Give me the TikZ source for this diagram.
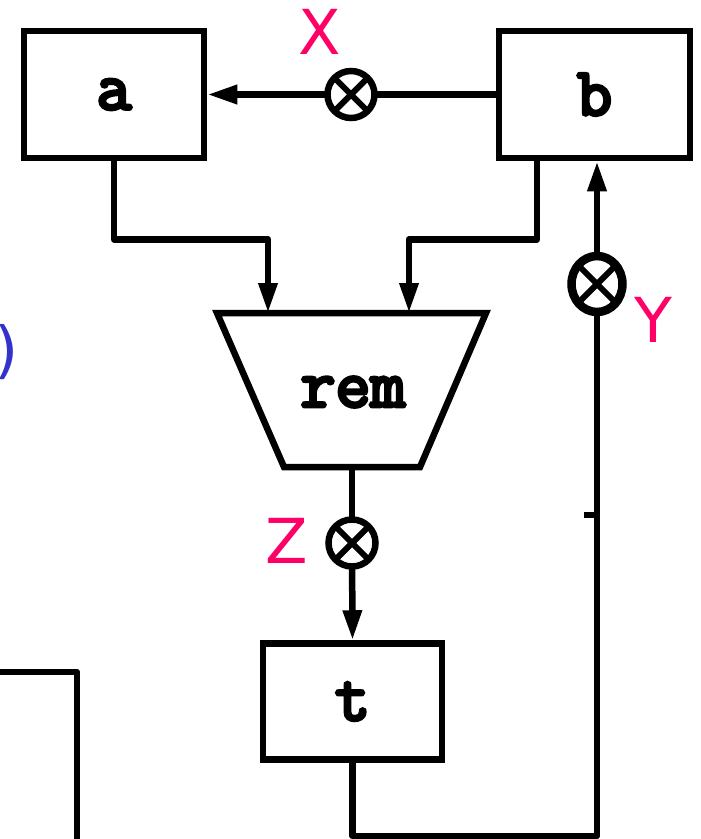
\documentclass[tikz,border=0pt]{standalone}
\usepackage{fontspec}
\newfontfamily\codefont{Latin Modern Mono}[FakeBold=5]
\newfontfamily\labelfont{DejaVu Sans}
\usetikzlibrary{arrows.meta,shapes.geometric}
\definecolor{sigpink}{RGB}{255,0,102}
\definecolor{noteblue}{RGB}{51,51,204}
\begin{document}
\begin{tikzpicture}[x=1pt,y=-1pt,
  wire/.style={line width=6.5pt, line join=round},
  arr/.style={wire, -{Triangle[length=30pt,width=18pt]}},
  codetext/.style={font=\codefont\fontsize{68}{68}\selectfont},
  unit/.style={draw, line width=6.5pt, inner sep=0pt, codetext},
  probe/.style={circle, draw, fill=white, line width=6.5pt,
    minimum size=47pt, inner sep=0pt, outer sep=0pt},
  tag/.style={text=sigpink, inner sep=0pt,
    font=\labelfont\fontsize{62}{62}\selectfont}]
\useasboundingbox (0,0) rectangle (701,839);

% register boxes
\node[unit, minimum width=180pt, minimum height=127pt] (a) at (114,94.5) {a};
\node[unit, minimum width=191pt, minimum height=127pt] (b) at (594.5,94.5) {b};
\node[unit, minimum width=179pt, minimum height=116pt] (t) at (352.5,701.5) {t};

% remainder unit (inverted trapezoid)
\coordinate (rtl) at (217,313);
\coordinate (rtr) at (486,313);
\coordinate (rbr) at (420,467);
\coordinate (rbl) at (284,467);
\draw[wire, line join=miter] (rtl) -- (rtr) -- (rbr) -- (rbl) -- cycle;
\node[codetext, inner sep=0pt] (rem) at (353,392) {rem};
\coordinate (ina) at (268,313);
\coordinate (inb) at (409,313);
\coordinate (out) at (352,467);

% probe points
\node[probe] (X) at (351,94.5) {};
\node[probe] (Z) at (352,543) {};
\node[ellipse, draw, fill=white, line width=8.5pt, minimum width=51pt,
      minimum height=56pt, inner sep=0pt, outer sep=0pt] (Y) at (597,284) {};
\foreach \p in {X,Z,Y}{
  \draw[line width=6pt] (\p.45) -- (\p.225);
  \draw[line width=6pt] (\p.135) -- (\p.315);
}

% probe labels
\node[tag] (lx) at (320,32) {X};
\node[tag] (ly) at (653,320) {Y};
\node[tag] (lz) at (287,541) {Z};

% data paths
\draw[wire] (b.west) -- (X);
\draw[arr] (X) -- (a.east);
\draw[arr] (a.south) -- ++(0,78) -| (ina);
\draw[arr] ([xshift=-57.5pt]b.south) -- ++(0,78) -| (inb);
\draw[wire] (out) -- (Z);
\draw[arr] (Z) -- (t.north);
\coordinate (ret) at (597,836);
\draw[wire] (t.south) |- (ret) -- (Y.south);
\draw[arr] (Y.north) -- (b.south -| Y.north);

% stub on the return line
\coordinate (stubL) at (584,515);
\coordinate (stubR) at (597,515);
\draw[wire] (stubL) -- (stubR);

% partial elements at the left edge
\node[text=noteblue, inner sep=0pt, anchor=east,
      font=\labelfont\fontsize{62}{62}\selectfont] (paren) at (19,352) {)};
\coordinate (cl1) at (-5,672);
\coordinate (cl2) at (77,672);
\coordinate (cl3) at (77,845);
\draw[wire] (cl1) -- (cl2) -- (cl3);
\end{tikzpicture}
\end{document}
